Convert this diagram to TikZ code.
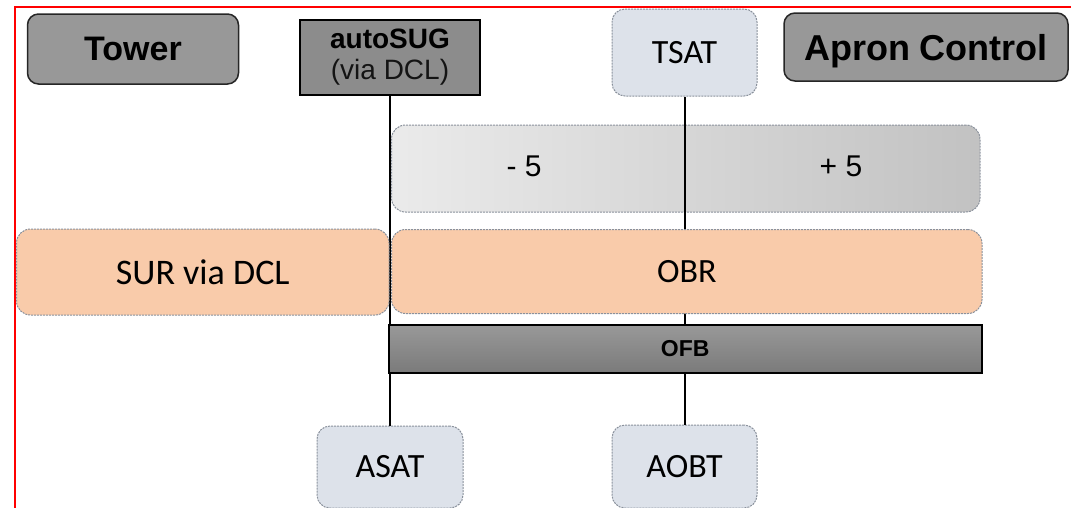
\documentclass[tikz,border=0pt]{standalone}
\usepackage{fontspec}
\setmainfont{Carlito}
\newfontfamily\arialfont{Liberation Sans}
\definecolor{peach}{HTML}{F9CBAA}
\definecolor{paleblue}{HTML}{DDE2EA}
\definecolor{boxgray}{HTML}{989898}
\definecolor{edgegray}{HTML}{8A919C}

\begin{document}
\begin{tikzpicture}[x=1pt, y=-1pt,
    role/.style={draw=black!85, line width=1.5pt, fill=boxgray, rounded corners=11pt,
        inner sep=0pt, font=\arialfont\bfseries\fontsize{34}{40}\selectfont},
    stamp/.style={draw=edgegray, dash pattern=on 2pt off 1pt, line width=1pt, fill=paleblue,
        rounded corners=13pt, inner sep=0pt, font=\fontsize{34}{40}\selectfont},
    band/.style={draw=edgegray, dash pattern=on 2pt off 1pt, line width=1pt,
        rounded corners=14pt, inner sep=0pt, font=\fontsize{34}{40}\selectfont},
    link/.style={line width=2pt}]
    \useasboundingbox (0,0) rectangle (1071,507);

    % frame
    \draw[red, line width=2pt] (14.5,510) -- (14.5,7) -- (1075,7);

    % headers
    \node[role, minimum width=211pt, minimum height=70pt] (tower) at (133,49) {Tower};
    \node[role, minimum width=284pt, minimum height=68pt, text depth=0pt,
        font=\arialfont\bfseries\fontsize{36}{40}\selectfont] (apron) at (926,47) {Apron Control};
    \node[draw=black, line width=2pt, fill=boxgray!92!black, minimum width=180pt, minimum height=75pt,
        inner sep=0pt, align=center, font=\arialfont\fontsize{28}{31}\selectfont]
        (autosug) at (390,57) {\textbf{autoSUG}\\{\color{black!92}(via DCL)}};

    % time stamps
    \node[stamp, minimum width=145pt, minimum height=87pt] (tsat) at (684.5,52.5) {TSAT};
    \node[stamp, minimum width=146pt, minimum height=82pt] (asat) at (390,467) {ASAT};
    \node[stamp, minimum width=145pt, minimum height=83pt] (aobt) at (684.5,466.5) {AOBT};

    % -5 / +5 window
    \node[band, left color=black!8, right color=black!24, minimum width=588.5pt, minimum height=87pt]
        (window) at (685.75,168.5) {};
    \node[font=\arialfont\fontsize{30}{36}\selectfont] (early) at (524,166) {- 5};
    \node[font=\arialfont\fontsize{30}{36}\selectfont] (late) at (841,166) {+ 5};

    \draw[link] (autosug) -- (asat);
    \draw[link] (tsat) -- (aobt);

    % bands
    \node[band, fill=peach, minimum width=372.5pt, minimum height=86pt, font=\fontsize{36}{40}\selectfont]
        (sur) at (202.75,272) {SUR via DCL};
    \node[band, fill=peach, minimum width=590.5pt, minimum height=84pt] (obr) at (686.75,271.5) {OBR};
    \node[draw=black, line width=2pt, top color=black!40, bottom color=black!52, minimum width=593.5pt,
        minimum height=48pt, inner sep=0pt, font=\arialfont\bfseries\fontsize{23}{28}\selectfont]
        (ofb) at (685.25,348.5) {OFB};
\end{tikzpicture}
\end{document}
